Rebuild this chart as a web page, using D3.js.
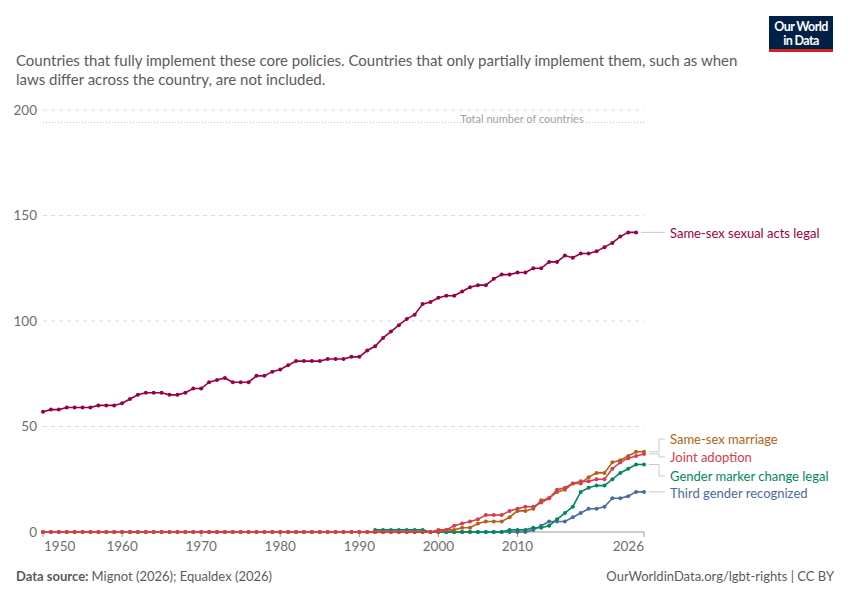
<!DOCTYPE html>
<html><head><meta charset="utf-8">
<script src="https://cdn.jsdelivr.net/npm/d3@7"></script>
<style>
body{margin:0;background:#fff;}
svg{font-family:Lato,"Open Sans",sans-serif;}
</style></head>
<body><svg id="c" width="850" height="600"></svg>
<script>
// ---- data ----
const startYear = 1950;
const endYear = 2026;
const xTicks = [1950, 1960, 1970, 1980, 1990, 2000, 2010, 2026];
const yTicks = [0, 50, 100, 150, 200];
const totalCountries = 194;

const sexualActsStart = 1950;
const sexualActs = [57,58,58,59,59,59,59,60,60,60, 61,63,65,66,66,66,65,65,66,68,
  68,71,72,73,71,71,71,74,74,76, 77,79,81,81,81,81,82,82,82,83,
  83,86,88,92,95,98,101,103,108,109, 111,112,112,114,116,117,117,120,122,122,
  123,123,125,125,128,128,131,130,132,132, 133,135,137,140,142,142];

const marriageStart = 1950;
const marriage = [0,0,0,0,0,0,0,0,0,0, 0,0,0,0,0,0,0,0,0,0, 0,0,0,0,0,0,0,0,0,0,
  0,0,0,0,0,0,0,0,0,0, 0,0,0,0,0,0,0,0,0,0, 0,
  1,1,2,2,4,5,5,5,7,10,10,11,15,16,19,20,23,23,26,28,28,33,34,36,38,38];

const adoptionStart = 1950;
const adoption = [0,0,0,0,0,0,0,0,0,0, 0,0,0,0,0,0,0,0,0,0, 0,0,0,0,0,0,0,0,0,0,
  0,0,0,0,0,0,0,0,0,0, 0,0,0,0,0,0,0,0,0,0,
  1,1,3,4,5,6,8,8,8,10,11,12,12,14,16,20,21,23,24,24,25,25,30,33,35,36,37];

const genderMarkerStart = 1992;
const genderMarker = [1,1,1,1,1,1,1, 0,0,0,0,0,0,0,0,0,0,
  1,1,1,2,2,3,6,9,12,19,21,22,22,25,28,30,32,32];

const thirdGenderStart = 1950;
const thirdGender = [0,0,0,0,0,0,0,0,0,0, 0,0,0,0,0,0,0,0,0,0, 0,0,0,0,0,0,0,0,0,0,
  0,0,0,0,0,0,0,0,0,0, 0,0,0,0,0,0,0,0,0,0, 0,0,0,0,0,0,0,0,0,0, 0,0,
  1,3,5,5,5,7,9,11,11,12,16,16,17,19,19];

const seriesNames = ["Third gender recognized","Gender marker change legal","Same-sex marriage","Joint adoption","Same-sex sexual acts legal"];
const seriesColors = ["#4C6A9C","#00875E","#B16214","#D73C50","#970046"];
const seriesStarts = [thirdGenderStart, genderMarkerStart, marriageStart, adoptionStart, sexualActsStart];
const seriesValues = [thirdGender, genderMarker, marriage, adoption, sexualActs];

// ---- chart ----
const svg = d3.select("#c");
const m = {left:43, right:644, top:110, bottom:532};
const x = d3.scaleLinear().domain([startYear, endYear]).range([m.left, m.right]);
const y = d3.scaleLinear().domain([0, 200]).range([m.bottom, m.top]);

// subtitle
const sub = svg.append("text").attr("x",16).attr("fill","#5b5b5b").style("font-size","15px");
sub.append("tspan").attr("x",16).attr("y",66).text("Countries that fully implement these core policies. Countries that only partially implement them, such as when");
sub.append("tspan").attr("x",16).attr("y",85).text("laws differ across the country, are not included.");

// logo
const logo = svg.append("g");
logo.append("rect").attr("x",769).attr("y",16).attr("width",64).attr("height",36).attr("fill","#002147");
logo.append("rect").attr("x",769).attr("y",49).attr("width",64).attr("height",3).attr("fill","#CE261E");
logo.append("text").attr("x",801).attr("y",31).attr("text-anchor","middle").attr("fill","#fff")
  .style("font-size","12.5px").style("font-weight","700").style("letter-spacing","-0.6px").text("Our World");
logo.append("text").attr("x",801).attr("y",45).attr("text-anchor","middle").attr("fill","#fff")
  .style("font-size","12.5px").style("font-weight","700").style("letter-spacing","-0.6px").text("in Data");

// grid + y labels
yTicks.forEach(t => {
  if (t > 0) {
    svg.append("line").attr("x1",m.left).attr("x2",m.right).attr("y1",y(t)).attr("y2",y(t))
      .attr("stroke","#dcdcdc").attr("stroke-dasharray","4,4");
  }
  svg.append("text").attr("x",37).attr("y",y(t)+4.5).attr("text-anchor","end")
    .attr("fill","#6e6e6e").style("font-size","13.5px").text(t);
});

// total countries line
svg.append("line").attr("x1",m.left).attr("x2",m.right).attr("y1",y(totalCountries)).attr("y2",y(totalCountries))
  .attr("stroke","#bdbdbd").attr("stroke-dasharray","1,2");
svg.append("text").attr("x",522).attr("y",y(totalCountries)+0.5).attr("text-anchor","middle")
  .attr("fill","#a0a0a0").style("font-size","11px")
  .attr("stroke","#fff").attr("stroke-width",3).attr("paint-order","stroke")
  .text("Total number of countries");

// x axis
svg.append("line").attr("x1",m.left).attr("x2",m.right).attr("y1",m.bottom).attr("y2",m.bottom).attr("stroke","#999");
xTicks.forEach((t,i) => {
  svg.append("line").attr("x1",x(t)).attr("x2",x(t)).attr("y1",m.bottom).attr("y2",m.bottom+5).attr("stroke","#999");
  svg.append("text").attr("x", i===0 ? x(t)+1 : x(t))
    .attr("y",551)
    .attr("text-anchor", i===0 ? "start" : (i===xTicks.length-1 ? "end" : "middle"))
    .attr("fill","#6e6e6e").style("font-size","13.5px").text(t);
});

// lines
const line = d3.line().x(d=>x(d[0])).y(d=>y(d[1]));
seriesValues.forEach((vals, i) => {
  const pts = vals.map((v,j)=>[seriesStarts[i]+j, v]);
  const g = svg.append("g");
  g.append("path").datum(pts).attr("d",line).attr("fill","none")
    .attr("stroke",seriesColors[i]).attr("stroke-width",1.6);
  g.selectAll("circle").data(pts).enter().append("circle")
    .attr("cx",d=>x(d[0])).attr("cy",d=>y(d[1])).attr("r",2).attr("fill",seriesColors[i]);
});

// labels on right
const lastPt = i => { const v = seriesValues[i]; return [seriesStarts[i]+v.length-1, v[v.length-1]]; };
const labelY = {"Same-sex sexual acts legal":233, "Same-sex marriage":439, "Joint adoption":457,
  "Gender marker change legal":476, "Third gender recognized":493};
const bendX = {"Same-sex sexual acts legal":null, "Same-sex marriage":659, "Joint adoption":659,
  "Gender marker change legal":659, "Third gender recognized":null};
seriesNames.forEach((name,i) => {
  const p = lastPt(i);
  const px = x(p[0]) + 5, py = y(p[1]);
  const ly = labelY[name];
  let d;
  if (bendX[name] === null) d = `M${px},${py}H665`;
  else d = `M${px},${py}H${bendX[name]}V${ly}H665`;
  svg.append("path").attr("d",d).attr("fill","none").attr("stroke","#c8c8c8").attr("stroke-width",1);
  svg.append("text").attr("x",670).attr("y",ly+4.5).attr("fill",seriesColors[i])
    .style("font-size","13px").text(name);
});

// footer
const f = svg.append("text").attr("x",16).attr("y",581).attr("fill","#5b5b5b").style("font-size","13px");
f.append("tspan").style("font-weight","700").text("Data source: ");
f.append("tspan").text("Mignot (2026); Equaldex (2026)");
svg.append("text").attr("x",834).attr("y",581).attr("text-anchor","end").attr("fill","#5b5b5b")
  .style("font-size","13px").text("OurWorldinData.org/lgbt-rights | CC BY");
</script></body></html>
